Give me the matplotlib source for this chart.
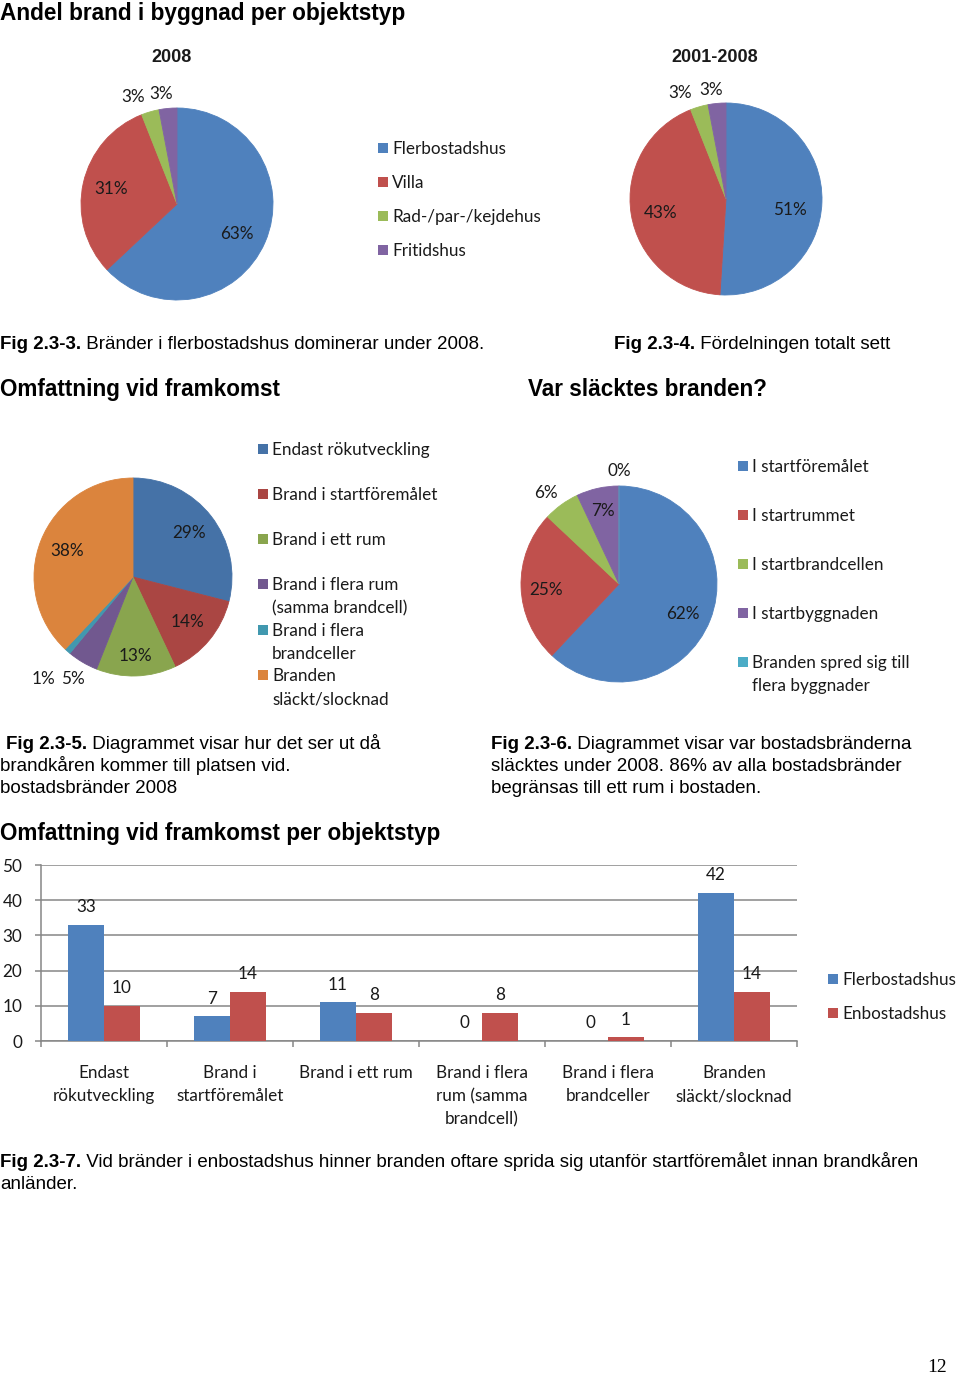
import numpy as np
import matplotlib
matplotlib.use("Agg")
import matplotlib.pyplot as plt
from matplotlib import font_manager
from matplotlib.patches import Rectangle

# ---------------- data ----------------
pie1_title = "2008"
pie1_labels = ["Flerbostadshus", "Villa", "Rad-/par-/kejdehus", "Fritidshus"]
pie1_values = [63, 31, 3, 3]

pie2_title = "2001-2008"
pie2_values = [51, 43, 3, 3]

pie3_labels = ["Endast rökutveckling", "Brand i startföremålet", "Brand i ett rum",
               "Brand i flera rum\n(samma brandcell)", "Brand i flera\nbrandceller",
               "Branden\nsläckt/slocknad"]
pie3_values = [29, 14, 13, 5, 1, 38]

pie4_labels = ["I startföremålet", "I startrummet", "I startbrandcellen",
               "I startbyggnaden", "Branden spred sig till\nflera byggnader"]
pie4_values = [62, 25, 6, 7, 0]

bar_categories = ["Endast\nrökutveckling", "Brand i\nstartföremålet", "Brand i ett rum",
                  "Brand i flera\nrum (samma\nbrandcell)", "Brand i flera\nbrandceller",
                  "Branden\nsläckt/slocknad"]
bar_series = ["Flerbostadshus", "Enbostadshus"]
bar_fler = [33, 7, 11, 0, 0, 42]
bar_en = [10, 14, 8, 8, 1, 14]
bar_yticks = [0, 10, 20, 30, 40, 50]

# ---------------- style ----------------
OFFICE = ["#4F81BD", "#C0504D", "#9BBB59", "#8064A2", "#4BACC6"]
MUTED = ["#4572A7", "#AA4643", "#89A54E", "#71588F", "#4198AF", "#DB843D"]
CH = "Lato"
CHS = 12.3
names = {f.name for f in font_manager.fontManager.ttflist}
NARROW = "Liberation Sans Narrow" if "Liberation Sans Narrow" in names else "Liberation Sans"
NSCALE = 1.0 if NARROW == "Liberation Sans Narrow" else 0.84
CAP = 16.1 * NSCALE
HEAD = 19.3 * NSCALE
TXT = "#1a1a1a"

W, H = 960, 1375
fig = plt.figure(figsize=(W / 100, H / 100), dpi=100)
fig.patch.set_facecolor("white")


def fx(x):
    return x / W


def fy(y):
    return 1 - y / H


def txt(x, y, s, **kw):
    """y is the visual centre of the capital letters; text is placed on its baseline."""
    kw.setdefault("color", TXT)
    size = kw.get("fontsize", 10)
    base = y + 0.36 * size * 100 / 72
    return fig.text(fx(x), fy(base), s, va="baseline", **kw)


def ax_px(x0, y0, w, h):
    return fig.add_axes([fx(x0), fy(y0 + h), w / W, h / H])


def caption(x, y, bold, rest, size):
    t = txt(x, y, bold, family=NARROW, fontweight="bold", fontsize=size, color="black")
    fig.canvas.draw()
    ext = t.get_window_extent()
    txt(ext.x1, y, rest, family=NARROW, fontsize=size, color="black")


def legend_px(x_sq, ys, labels, colors, size, line_h):
    for yy, lab, c in zip(ys, labels, colors):
        fig.patches.append(Rectangle((fx(x_sq), fy(yy + 5)), 10 / W, 10 / H,
                                     transform=fig.transFigure, facecolor=c, edgecolor="none"))
        for k, line in enumerate(lab.split("\n")):
            txt(x_sq + 14, yy + k * line_h, line, family=CH, fontsize=size)


def pie_px(cx, cy, r, values, colors, dists, nudges, size):
    ax = ax_px(cx - r, cy - r, 2 * r, 2 * r)
    wedges, _ = ax.pie(values, colors=colors, startangle=90, counterclock=False,
                       radius=1, wedgeprops=dict(linewidth=0.6))
    for wd in wedges:
        wd.set_edgecolor(wd.get_facecolor())
    for wd, v, d, n in zip(wedges, values, dists, nudges):
        a = np.deg2rad((wd.theta1 + wd.theta2) / 2 + n)
        ax.text(d * np.cos(a), d * np.sin(a), f"{v}%", ha="center", va="center",
                family=CH, fontsize=size, color=TXT, clip_on=False)
    ax.set_xlim(-1, 1)
    ax.set_ylim(-1, 1)
    ax.set_aspect("equal")
    ax.axis("off")
    return ax


# ---------------- page header ----------------
txt(0, 12, "Andel brand i byggnad per objektstyp", family="Liberation Sans",
    fontweight="bold", fontsize=16.3, color="black", ha="left")

# pie 1 & 2
txt(172, 56, pie1_title, family="Liberation Sans", fontweight="bold", fontsize=13, ha="center")
txt(715, 56, pie2_title, family="Liberation Sans", fontweight="bold", fontsize=13, ha="center")
pie_px(177, 204, 96, pie1_values, OFFICE[:4], [0.70, 0.70, 1.20, 1.155], [-3, 0, 6, 2.6], CHS)
pie_px(726, 199, 96, pie2_values, OFFICE[:4], [0.68, 0.70, 1.20, 1.15], [-8, 3, 7, 2.5], CHS)
legend_px(378, [148, 182, 216, 250], pie1_labels, OFFICE[:4], CHS, 23)

caption(0, 342, "Fig 2.3-3.", " Bränder i flerbostadshus dominerar under 2008.", CAP)
caption(614, 342, "Fig 2.3-4.", " Fördelningen totalt sett", CAP)

txt(0, 388, "Omfattning vid framkomst", family=NARROW, fontweight="bold",
    fontsize=HEAD, color="black")
txt(528, 388, "Var släcktes branden?", family=NARROW, fontweight="bold",
    fontsize=HEAD, color="black")

# pie 3
pie_px(133, 577, 99, pie3_values, MUTED, [0.72, 0.72, 0.80, 1.20, 1.37, 0.72],
       [0, 0, 0, 0, 0, 0], CHS)
legend_px(258, [449, 494, 539, 584, 630, 675], pie3_labels, MUTED, CHS, 23)

# pie 4
pie_px(619, 584, 98, pie4_values, OFFICE, [0.72, 0.75, 1.19, 0.76, 1.15],
       [-4, 3, 3, 0, 0], CHS)
legend_px(738, [466, 515, 564, 613, 662], pie4_labels, OFFICE, CHS, 23)

# captions for pies
caption(6, 742, "Fig 2.3-5.", " Diagrammet visar hur det ser ut då", CAP)
txt(0, 764, "brandkåren kommer till platsen vid.", family=NARROW, fontsize=CAP, color="black")
txt(0, 786, "bostadsbränder 2008", family=NARROW, fontsize=CAP, color="black")
caption(491, 742, "Fig 2.3-6.", " Diagrammet visar var bostadsbränderna", CAP)
txt(491, 764, "släcktes under 2008. 86% av alla bostadsbränder", family=NARROW,
    fontsize=CAP, color="black")
txt(491, 786, "begränsas till ett rum i bostaden.", family=NARROW, fontsize=CAP, color="black")

txt(0, 832, "Omfattning vid framkomst per objektstyp", family=NARROW, fontweight="bold",
    fontsize=HEAD, color="black")

# ---------------- bar chart ----------------
GRID = "#868686"
ax = ax_px(41, 865, 756, 176)
x = np.arange(len(bar_categories))
w = 36 / 126
b1 = ax.bar(x - w / 2, bar_fler, w, color=OFFICE[0], label=bar_series[0], zorder=3)
b2 = ax.bar(x + w / 2, bar_en, w, color=OFFICE[1], label=bar_series[1], zorder=3)
for bars in (b1, b2):
    ax.bar_label(bars, padding=7, family=CH, fontsize=CHS, color=TXT)
ax.set_xlim(-0.5, len(bar_categories) - 0.5)
ax.set_ylim(bar_yticks[0], bar_yticks[-1])
ax.set_yticks(bar_yticks)
ax.yaxis.grid(True, color=GRID, linewidth=1.1, zorder=0)
ax.set_axisbelow(True)
ax.set_xticks(x)
ax.set_xticklabels(bar_categories, family=CH, fontsize=CHS, color=TXT, linespacing=1.57, va="top")
ax.set_xticks(np.arange(len(bar_categories) + 1) - 0.5, minor=True)
ax.tick_params(axis="x", which="major", length=0, pad=17)
ax.tick_params(axis="x", which="minor", length=4, color=GRID, width=1.1, direction="out")
ax.tick_params(axis="y", length=4, color=GRID, width=1.1, pad=9.5, labelsize=CHS, labelcolor=TXT)
for lab in ax.get_yticklabels():
    lab.set_family(CH)
for s in ("top", "right"):
    ax.spines[s].set_visible(False)
for s in ("left", "bottom"):
    ax.spines[s].set_color(GRID)
    ax.spines[s].set_linewidth(1.1)
ax.set_facecolor("none")
legend_px(828, [979, 1013], bar_series, OFFICE[:2], CHS, 23)

caption(0, 1160, "Fig 2.3-7.", " Vid bränder i enbostadshus hinner branden oftare sprida sig utanför startföremålet innan brandkåren",
        CAP)
txt(0, 1182, "anländer.", family=NARROW, fontsize=CAP, color="black")

txt(947, 1365, "12", family="Liberation Serif", fontsize=14, color="black", ha="right")

fig.savefig("out.png", dpi=100, facecolor="white")
